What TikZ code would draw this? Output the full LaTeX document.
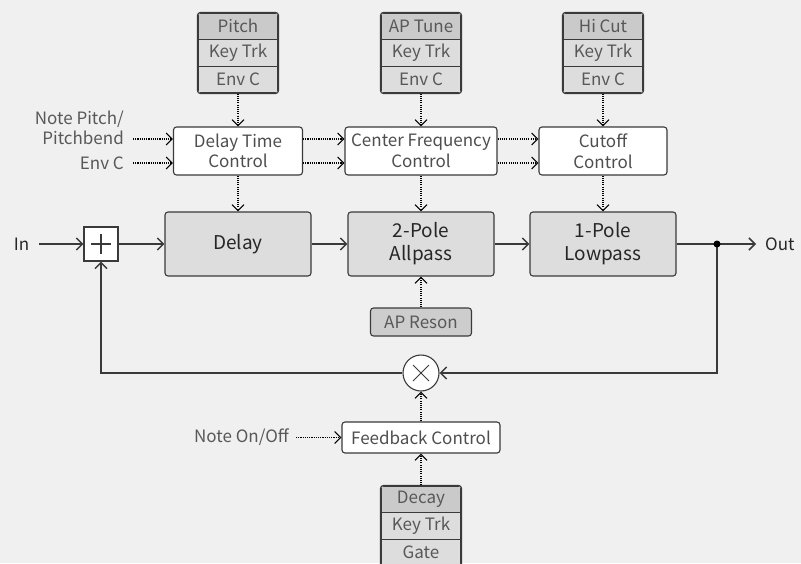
\documentclass[tikz,border=0pt]{standalone}
\usepackage{fontspec}
\setmainfont{Noto Sans CJK SC}
\usepackage{tikz}
\usetikzlibrary{arrows.meta}
\definecolor{bg}{RGB}{240,240,240}
\definecolor{boxgray}{RGB}{221,221,221}
\definecolor{hdrgray}{RGB}{202,202,202}
\definecolor{ink}{RGB}{58,58,58}
\definecolor{soft}{RGB}{88,88,88}

\begin{document}
\begin{tikzpicture}[x=1pt, y=-1pt, font=\fontsize{17}{20.5}\selectfont,
  boxline/.style={draw=ink, line width=1.1pt},
  cell/.style={boxline, fill=boxgray, text=soft, minimum width=80pt, minimum height=26.67pt, inner sep=0pt},
  ctrl/.style={boxline, fill=white, rounded corners=3pt, text=ink!90, align=center, minimum height=48pt, inner sep=0pt},
  block/.style={boxline, fill=boxgray, rounded corners=3pt, align=center, minimum width=146pt, minimum height=64pt, inner sep=0pt, text=black!85, font=\fontsize{19}{23}\selectfont},
  lbl/.style={inner sep=0pt, text=soft},
  sig/.style={draw=ink, line width=1.5pt, -{Straight Barb[length=6pt,width=12pt]}},
  mod/.style={draw=black, line width=1.3pt, dash pattern=on 1.1pt off 1.1pt, -{Straight Barb[length=6pt,width=12pt, line width=1.1pt]}}]
\useasboundingbox[fill=bg] (0,0) rectangle (801,563);
\foreach \n/\c/\t/\h/\b in {pitch/238/13/Pitch/Env C, aptune/421/13/AP Tune/Env C, hicut/603/13/Hi Cut/Env C, decay/421/486/Decay/Gate} {
  \begin{scope}
    \clip[rounded corners=3pt] (\c-40,\t) rectangle (\c+40,\t+80);
    \node[cell, fill=hdrgray] (\n1) at (\c,\t+13.33) {\h};
    \node[cell] (\n2) at (\c,\t+40) {Key Trk};
    \node[cell] (\n3) at (\c,\t+66.67) {\b};
  \end{scope}
  \draw[boxline, rounded corners=3pt] (\n1.north west) rectangle (\n3.south east);
}
\node[ctrl, minimum width=129pt] (dtc) at (238,151) {Delay Time\\Control};
\node[ctrl, minimum width=152pt] (cfc) at (421,151) {Center Frequency\\Control};
\node[ctrl, minimum width=128pt] (coc) at (603,151) {Cutoff\\Control};
\node[block] (delay) at (238,244) {Delay};
\node[block] (allpass) at (421,244) {2-Pole\\Allpass};
\node[block] (lowpass) at (603,244) {1-Pole\\Lowpass};
\node[boxline, fill=white, minimum size=34pt, inner sep=0pt] (sum) at (101,244) {};
\node[boxline, fill=white, circle, minimum size=36pt, inner sep=0pt] (mul) at (421,373) {};
\node[cell, fill=hdrgray!85!boxgray, rounded corners=3pt, minimum width=101pt, minimum height=28pt] (apreson) at (421,322) {AP Reson};
\node[ctrl, minimum width=158pt, minimum height=31pt] (fbc) at (421,437.5) {Feedback Control};
\node[lbl, text=black!85] (in) at (21.5,244) {In};
\node[lbl, text=black!85, anchor=west] (out) at (765,244) {Out};
\node[lbl, align=right, anchor=east] (npitch) at (124,128) {Note Pitch/\\Pitchbend};
\node[lbl, anchor=east] (envc) at (124,163) {Env C};
\node[lbl, anchor=east] (noteon) at (289,437.5) {Note On/Off};
\coordinate (tap) at (717,244);
\draw[ink, line width=1.6pt] (sum.center) +(-10,0) -- +(10,0) (sum.center) +(0,-10) -- +(0,10);
\draw[ink, line width=1pt] (mul.center) +(-8,-8) -- +(8,8) (mul.center) +(-8,8) -- +(8,-8);
\draw[sig] ([xshift=10pt]in.east) -- (sum);
\draw[sig] (sum) -- (delay);
\draw[sig] (delay) -- (allpass);
\draw[sig] (allpass) -- (lowpass);
\draw[sig] (lowpass) -- ([xshift=-9pt]out.west);
\draw[sig] (tap) |- (mul);
\draw[sig] (mul) -| (sum);
\fill[black] (tap) circle (3.5pt);
\foreach \s/\d in {pitch3/dtc, aptune3/cfc, hicut3/coc, dtc/delay, cfc/allpass, coc/lowpass, apreson/allpass, fbc/mul, decay1/fbc}
  \draw[mod] (\s) -- (\d);
\foreach \y in {12,-12} {
  \draw[mod] ([yshift=\y pt]dtc.east) -- ([yshift=\y pt]cfc.west);
  \draw[mod] ([yshift=\y pt]cfc.east) -- ([yshift=\y pt]coc.west);
}
\draw[mod] ([xshift=9pt,yshift=-11pt]npitch.east) -- ([yshift=12pt]dtc.west);
\draw[mod] ([xshift=9pt]envc.east) -- ([yshift=-12pt]dtc.west);
\draw[mod] ([xshift=7pt]noteon.east) -- (fbc.west);
\end{tikzpicture}
\end{document}
